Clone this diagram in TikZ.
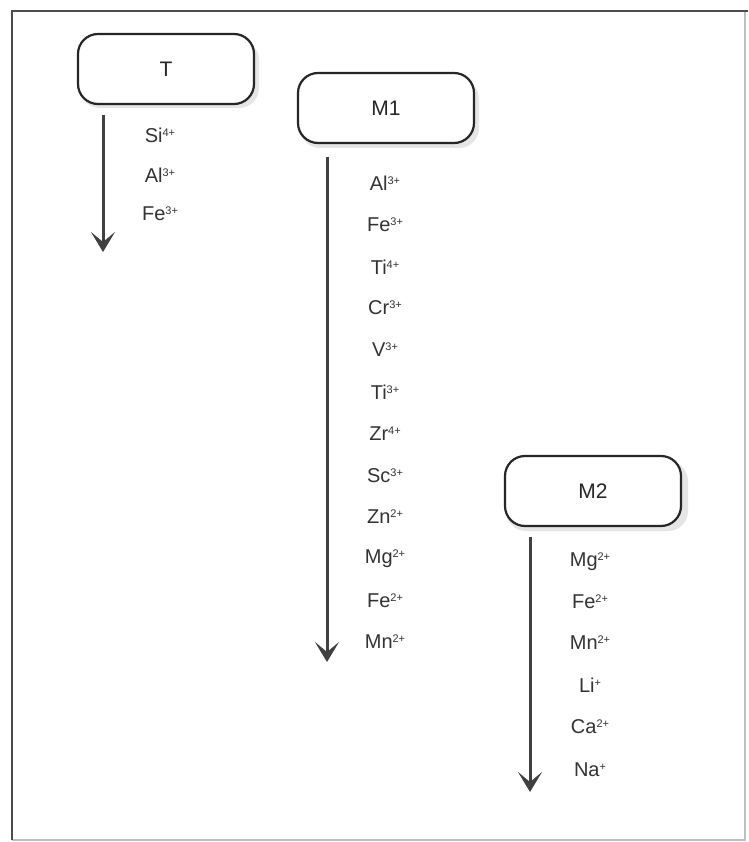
\documentclass[tikz,border=0pt]{standalone}
\usepackage{fontspec}
\setmainfont{Liberation Sans}
\usetikzlibrary{arrows.meta}
\tikzset{
  site/.style={draw=black!85, line width=2.2pt, rounded corners=20pt, minimum width=176pt, minimum height=70pt, font=\fontsize{21}{24}\selectfont, text=black!85, fill=white},
  ion/.style={font=\fontsize{20}{23}\selectfont, text=black!80, anchor=center},
  order/.style={draw=black!75, line width=3pt, -{Stealth[length=20pt,width=24pt,inset=10pt]}},
}
\newcommand{\ionx}[2]{#1\raisebox{0.3em}{\fontsize{11}{12}\selectfont #2}}
\begin{document}
\begin{tikzpicture}[x=1pt,y=-1pt]
\useasboundingbox (0,0) rectangle (748,842);
\fill[white] (0,0) rectangle (748,842);
% frame
\draw[black!25, line width=1.2pt] (745,11) -- (745,840) -- (12,840);
\draw[black!70, line width=2pt] (12,840) -- (12,11) -- (748,11);
% shadows
\fill[black!10, rounded corners=20pt] (80,40) rectangle (259,108);
\fill[black!10, rounded corners=20pt] (300,79) rectangle (479,148);
\fill[black!10, rounded corners=20pt] (506,461) rectangle (688,531);
% T
\node[site] (T) at (166,69) {T};
\coordinate (Ta) at (103,115);
\coordinate (Tb) at (103,252);
\draw[order] (Ta) -- (Tb);
\node[ion] (t1) at (160,135) {\ionx{Si}{4+}};
\node[ion] (t2) at (160,175) {\ionx{Al}{3+}};
\node[ion] (t3) at (160,214) {\ionx{Fe}{3+}};
% M1
\node[site] (M1) at (386,108) {M1};
\coordinate (M1a) at (327,157);
\coordinate (M1b) at (327,662);
\draw[order] (M1a) -- (M1b);
\node[ion] (m1) at (385,183) {\ionx{Al}{3+}};
\node[ion] (m2) at (385,225) {\ionx{Fe}{3+}};
\node[ion] (m3) at (385,267) {\ionx{Ti}{4+}};
\node[ion] (m4) at (385,308) {\ionx{Cr}{3+}};
\node[ion] (m5) at (385,350) {\ionx{V}{3+}};
\node[ion] (m6) at (385,392) {\ionx{Ti}{3+}};
\node[ion] (m7) at (385,434) {\ionx{Zr}{4+}};
\node[ion] (m8) at (385,476) {\ionx{Sc}{3+}};
\node[ion] (m9) at (385,517) {\ionx{Zn}{2+}};
\node[ion] (m10) at (385,559) {\ionx{Mg}{2+}};
\node[ion] (m11) at (385,601) {\ionx{Fe}{2+}};
\node[ion] (m12) at (385,642) {\ionx{Mn}{2+}};
% M2
\node[site] (M2) at (593,491) {M2};
\coordinate (M2a) at (530,537);
\coordinate (M2b) at (530,792);
\draw[order] (M2a) -- (M2b);
\node[ion] (n1) at (590,562) {\ionx{Mg}{2+}};
\node[ion] (n2) at (590,602) {\ionx{Fe}{2+}};
\node[ion] (n3) at (590,643) {\ionx{Mn}{2+}};
\node[ion] (n4) at (590,685) {\ionx{Li}{+}};
\node[ion] (n5) at (590,727) {\ionx{Ca}{2+}};
\node[ion] (n6) at (590,770) {\ionx{Na}{+}};
\end{tikzpicture}
\end{document}
